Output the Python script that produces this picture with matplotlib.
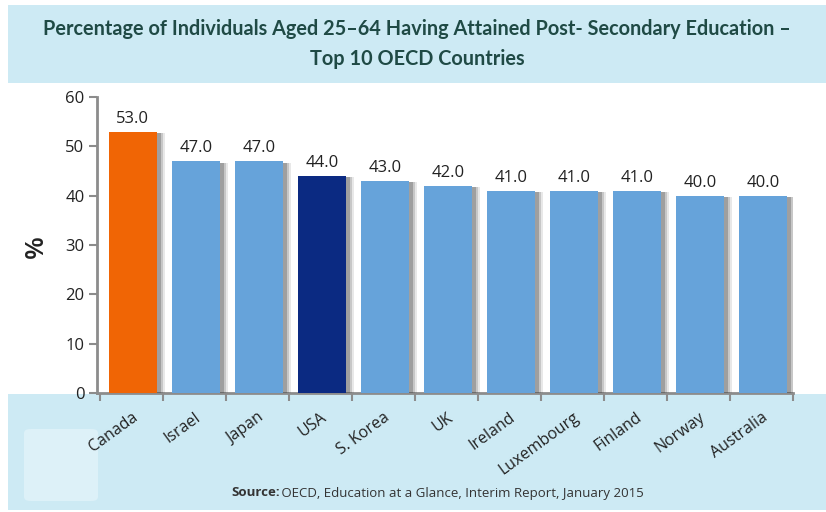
import matplotlib
matplotlib.use("Agg")
import matplotlib.pyplot as plt
import matplotlib.patheffects as pe
from matplotlib.patches import Rectangle, FancyBboxPatch
import matplotlib.transforms as mtransforms
import numpy as np

countries = ["Canada", "Israel", "Japan", "USA", "S. Korea", "UK", "Ireland",
             "Luxembourg", "Finland", "Norway", "Australia"]
values = [53.0, 47.0, 47.0, 44.0, 43.0, 42.0, 41.0, 41.0, 41.0, 40.0, 40.0]
highlight = {"Canada": "#F06505", "USA": "#0B2A82"}
base_color = "#66A3DA"
y_ticks = [0, 10, 20, 30, 40, 50, 60]
title = "Percentage of Individuals Aged 25\u201364 Having Attained Post- Secondary Education \u2013\nTop 10 OECD Countries"
source_bold = "Source:"
source_rest = " OECD, Education at a Glance, Interim Report, January 2015"

W, H = 826, 512
fig = plt.figure(figsize=(W / 100, H / 100), dpi=100)
fig.patch.set_facecolor("white")

band = "#CDEAF4"
fig.patches.append(Rectangle((8 / W, 1 - 83 / H), 1 - 8 / W, 78 / H,
                             transform=fig.transFigure, facecolor=band,
                             edgecolor="none", zorder=0))
fig.patches.append(Rectangle((8 / W, 1 - 510 / H), 1 - 8 / W, 116 / H,
                             transform=fig.transFigure, facecolor=band,
                             edgecolor="none", zorder=0))
fig.patches.append(FancyBboxPatch((24 / W, 1 - 501 / H), 74 / W, 72 / H,
                                  boxstyle="round,pad=0,rounding_size=0.008",
                                  transform=fig.transFigure, facecolor="#DDF1F8",
                                  edgecolor="none", zorder=0))

ax = fig.add_axes([97 / W, 1 - 393 / H, (793 - 97) / W, (393 - 97) / H])
ax.set_facecolor("none")
ax.set_zorder(2)

x = np.arange(len(countries))
colors = [highlight.get(c, base_color) for c in countries]
bars = ax.bar(x, values, width=0.77, color=colors, zorder=3)
shadow = [pe.SimplePatchShadow(offset=(o, -1), shadow_rgbFace="#444444", alpha=a)
          for o, a in [(6, 0.12), (4.5, 0.2), (3, 0.3)]]
for b in bars:
    b.set_path_effects(shadow + [pe.Normal()])

for xi, v in zip(x, values):
    ax.annotate(f"{v:.1f}", (xi, v), xytext=(0, 3.5), textcoords="offset points",
                ha="center", va="bottom", fontsize=12, color="#222222",
                family="Open Sans")

ax.set_xlim(-0.57, 10.48)
ax.set_ylim(0, 60)
ax.set_yticks(y_ticks)
ax.set_yticklabels([str(t) for t in y_ticks], fontsize=12, color="#222222", family="Open Sans")
ax.set_xticks(np.arange(-1, 11) + 0.48)
ax.set_xticklabels([])
ax.tick_params(axis="x", length=6, width=1.5, color="#8C8C8C", direction="out")
ax.tick_params(axis="y", length=6, width=1.5, color="#8C8C8C", direction="out", pad=3)

for s in ["top", "right"]:
    ax.spines[s].set_visible(False)
for s in ["left", "bottom"]:
    ax.spines[s].set_color("#8C8C8C")
    ax.spines[s].set_linewidth(2)

offset = mtransforms.ScaledTranslation(8 / 100, 0, fig.dpi_scale_trans)
for xi, c in zip(x, countries):
    ax.text(xi, -3.3, c, rotation=36, ha="right", va="top", fontsize=11.5,
            color="#222222", family="Open Sans",
            transform=ax.transData + offset)

fig.text(36 / W, 1 - 247 / H, "%", rotation=90, ha="center", va="center",
         fontsize=19, color="#222222", family="Open Sans", fontweight="semibold")

fig.text(417 / W, 1 - 44 / H, title, ha="center", va="center", fontsize=14.3,
         fontweight="bold", color="#1F4A45", family="Lato", linespacing=1.6)

t1 = fig.text(231 / W, 1 - 493 / H, source_bold, ha="left", va="center",
              fontsize=9.5, fontweight="bold", color="#333333", family="Open Sans")
fig.canvas.draw()
bb = t1.get_window_extent()
fig.text((bb.x1 - 2) / W, 1 - 493 / H, source_rest, ha="left", va="center",
         fontsize=9.5, color="#333333", family="Open Sans")

fig.savefig("out.png", dpi=100)
